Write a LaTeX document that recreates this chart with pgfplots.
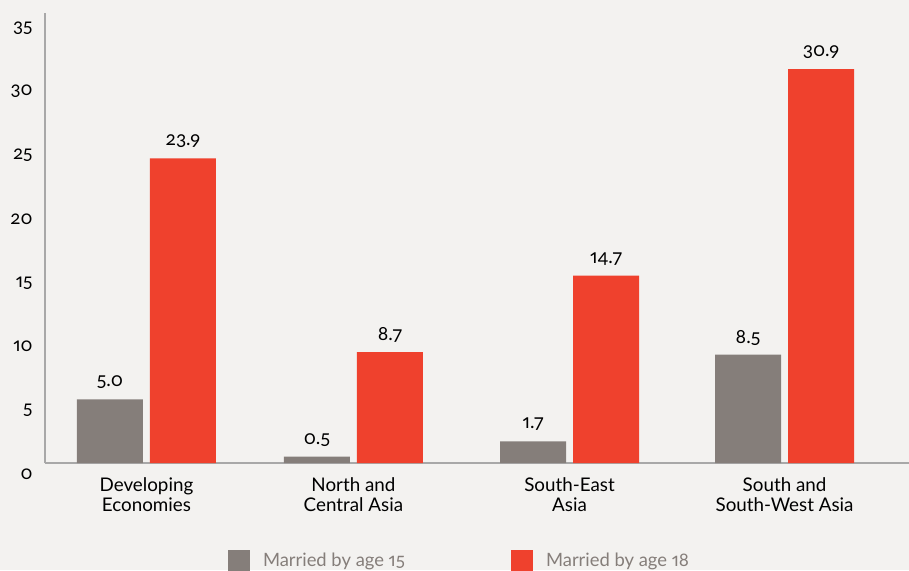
\documentclass[border=0pt]{standalone}
\usepackage{pgfplots}
\pgfplotsset{compat=1.18}
\usepackage{fontspec}
\setmainfont{Lato}[Numbers={OldStyle,Proportional}]
\newfontfamily\osf{Lato}[Numbers={OldStyle,Proportional}]
\definecolor{bgc}{HTML}{F3F2F0}
\definecolor{barg}{HTML}{857E7A}
\definecolor{barr}{HTML}{EF412D}
\definecolor{axc}{HTML}{A8A8A8}
\definecolor{legc}{HTML}{857E7A}
\pgfplotstableread{
x     a15  l15  a18  l18
0     5.0  5.0  23.9 23.9
0.973 0.5  0.5  8.7  8.7
1.989 1.7  1.7  14.7 14.7
3     8.5  8.5  30.9 30.9
}\datatab
\begin{document}
\begin{tikzpicture}
\useasboundingbox (-22.5pt,-53.5pt) rectangle (432pt,231.5pt);
\fill[bgc] (-22.5pt,-53.5pt) rectangle (432pt,231.5pt);
\begin{axis}[
  at={(0pt,0pt)}, anchor=south west,
  scale only axis, width=432pt, height=225pt,
  xmin=-0.477, xmax=3.585, ymin=0, ymax=35.3,
  axis x line*=bottom, axis y line*=left,
  axis line style={axc, line width=1pt, -},
  ybar=3.5pt, bar width=33pt,
  major tick length=0pt,
  ytick={0,5,10,15,20,25,30,35},
  yticklabel={\hbox{\osf\fontsize{9.4}{10}\selectfont\pgfmathparse{int(\tick)}\pgfmathresult}},
  xtick={0,0.973,1.989,3},
  xticklabels={{Developing\\Economies},{North and\\Central Asia},{South-East\\Asia},{South and\\South-West Asia}},
  tick label style={font=\fontsize{9.4}{10}\selectfont, text=black},
  yticklabel style={inner sep=0pt, anchor=east, xshift=-6pt, yshift=-5.5pt},
  xticklabel style={inner sep=0pt, anchor=north, yshift=-7pt, align=center},
  point meta=explicit symbolic,
  nodes near coords={\hbox{\osf\fontsize{9.6}{10}\selectfont\pgfplotspointmeta}},
  every node near coord/.append style={text=black, anchor=center, yshift=8.5pt},
  legend columns=2,
  legend style={draw=none, fill=none, inner sep=0pt, outer sep=0pt,
    at={(0.2118,-0.2178)}, anchor=west,
    nodes={inner sep=0pt, text=legc, font=\fontsize{9.2}{10}\selectfont},
    /tikz/every odd column/.append style={column sep=6.5pt},
    /tikz/every even column/.append style={column sep=53pt}},
]
\addplot[fill=barg, draw=none, legend image code/.code={\fill[barg] (0pt,-5.5pt) rectangle (11pt,5.5pt);}] table[x=x, y=a15, meta=l15] {\datatab};
\addlegendentry{Married by age 15}
\addplot[fill=barr, draw=none, legend image code/.code={\fill[barr] (0pt,-5.5pt) rectangle (11pt,5.5pt);}] table[x=x, y=a18, meta=l18] {\datatab};
\addlegendentry{Married by age 18}
\end{axis}
\end{tikzpicture}
\end{document}
